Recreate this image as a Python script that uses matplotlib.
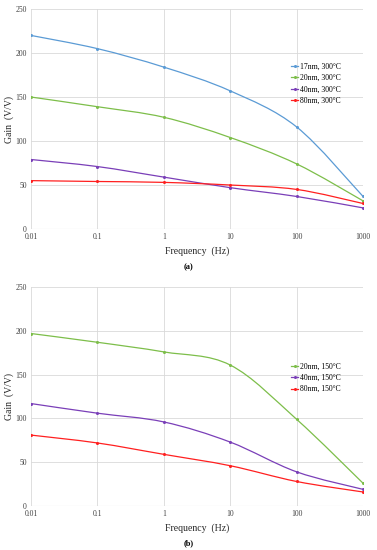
import numpy as np
import matplotlib
matplotlib.use('Agg')
import matplotlib.pyplot as plt
from matplotlib.path import Path
from matplotlib.patches import PathPatch

plt.rcParams['font.family'] = ['Liberation Serif', 'DejaVu Serif']

freq = [0.01, 0.1, 1, 10, 100, 1000]

# (a) 300 C anneal
gain_a_17 = [220, 205, 184, 157, 116, 37]
gain_a_20 = [150, 139, 127, 104, 74, 32]
gain_a_40 = [79, 71, 59, 47, 37, 24]
gain_a_80 = [55, 54, 53, 50, 45, 29]
labels_a = ['17nm, 300°C', '20nm, 300°C', '40nm, 300°C', '80nm, 300°C']

# (b) 150 C anneal
gain_b_20 = [197, 187, 176, 161, 99, 26]
gain_b_40 = [117, 106, 96, 73, 39, 19]
gain_b_80 = [81, 72, 59, 46, 28, 16]
labels_b = ['20nm, 150°C', '40nm, 150°C', '80nm, 150°C']

BLUE = '#5B9BD5'
GREEN = '#7DBE4A'
PURPLE = '#7A3FB8'
RED = '#FF2020'


def smooth_path(x, y, t=0.5):
    # Excel-like smoothed line: Catmull-Rom bezier in log-x space
    lx = np.log10(x)
    y = np.asarray(y, float)
    n = len(lx)
    verts = [(x[0], y[0])]
    codes = [Path.MOVETO]
    for i in range(n - 1):
        i0 = max(i - 1, 0)
        i3 = min(i + 2, n - 1)
        c1x = lx[i] + (lx[i + 1] - lx[i0]) * t / 3
        c1y = y[i] + (y[i + 1] - y[i0]) * t / 3
        c2x = lx[i + 1] - (lx[i3] - lx[i]) * t / 3
        c2y = y[i + 1] - (y[i3] - y[i]) * t / 3
        verts += [(10 ** c1x, c1y), (10 ** c2x, c2y), (x[i + 1], y[i + 1])]
        codes += [Path.CURVE4] * 3
    return Path(verts, codes)


def panel(ax, series, colors, labels, leg_anchor):
    for y, c, lab in zip(series, colors, labels):
        ax.add_patch(PathPatch(smooth_path(freq, y), fill=False, edgecolor=c, lw=0.9))
        ax.plot(freq, y, ls='none', marker='o', ms=1.2, color=c)
        ax.plot([], [], '-', marker='o', ms=1.2, color=c, lw=0.9, label=lab)
    ax.set_xscale('log')
    ax.set_xlim(0.01, 1000)
    ax.set_ylim(0, 250)
    ax.set_xticks(freq)
    ax.set_xticklabels(['0.01', '0.1', '1', '10', '100', '1000'])
    ax.set_yticks(range(0, 251, 50))
    ax.minorticks_off()
    ax.tick_params(length=0, labelsize=5.5, colors='#404040', pad=3)
    ax.grid(True, color='#D9D9D9', lw=0.6)
    ax.set_axisbelow(True)
    for s in ax.spines.values():
        s.set_visible(False)
    ax.axhline(0, color='#D9D9D9', lw=0.8, zorder=0)
    ax.set_xlabel('Frequency  (Hz)', fontsize=7, color='#262626', labelpad=4)
    ax.set_ylabel('Gain  (V/V)', fontsize=7, color='#262626')
    ax.yaxis.set_label_coords(-0.052, 0.5)
    ax.legend(loc='upper left', bbox_to_anchor=leg_anchor, frameon=False,
              fontsize=5.5, handlelength=0.9, handletextpad=0.2,
              labelspacing=0.45, borderaxespad=0)


fig = plt.figure(figsize=(3.77, 5.5), dpi=100)
ax1 = fig.add_axes([0.082, 0.5836, 0.881, 0.4])
ax2 = fig.add_axes([0.082, 0.080, 0.881, 0.398])

panel(ax1, [gain_a_17, gain_a_20, gain_a_40, gain_a_80],
      [BLUE, GREEN, PURPLE, RED], labels_a, (0.775, 0.77))
panel(ax2, [gain_b_20, gain_b_40, gain_b_80],
      [GREEN, PURPLE, RED], labels_b, (0.775, 0.67))

fig.text(0.5, 1 - 267 / 550, '(a)', ha='center', va='center', fontsize=6, fontweight='bold')
fig.text(0.5, 1 - 543 / 550, '(b)', ha='center', va='center', fontsize=6, fontweight='bold')

fig.savefig('out.png', dpi=100, facecolor='white')
